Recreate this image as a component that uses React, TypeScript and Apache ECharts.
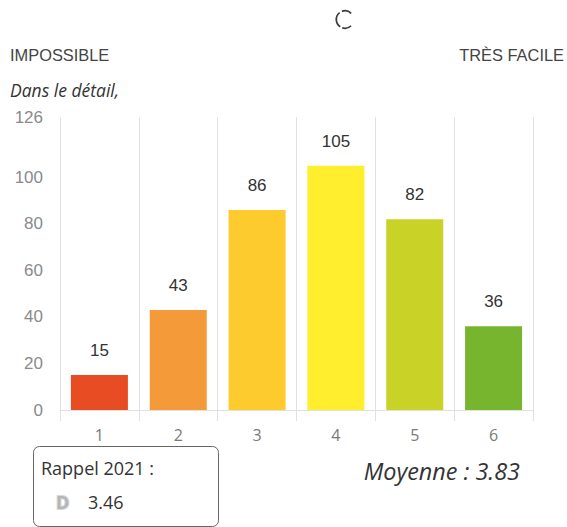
import React, { useEffect, useRef } from "react";
import * as echarts from "echarts";

const categories = ["1", "2", "3", "4", "5", "6"];
const values = [15, 43, 86, 105, 82, 36];
const barColors = ["#E84C22", "#F59A38", "#FDCB2E", "#FFEE2E", "#C9D327", "#77B52F"];
const yTicks = [0, 20, 40, 60, 80, 100, 126];
const leftLabel = "IMPOSSIBLE";
const rightLabel = "TRÈS FACILE";
const detailLabel = "Dans le détail,";
const recallTitle = "Rappel 2021 :";
const recallValue = "3.46";
const meanLabel = "Moyenne : 3.83";

const OPEN = '"Open Sans", sans-serif';
const ARIAL = '"Liberation Sans", Arial, sans-serif';

export default function App() {
  const ref = useRef<HTMLDivElement>(null);
  useEffect(() => {
    const chart = echarts.init(ref.current!, null, { renderer: "svg" });
    const spinner = { stroke: "#3A3A3A", lineWidth: 1.7, fill: "none" };
    chart.setOption({
      animation: false,
      grid: { left: 60, right: 34, top: 117, bottom: 117, containLabel: false },
      xAxis: {
        type: "category",
        data: categories,
        axisLine: { show: true, lineStyle: { color: "#E0E0E0", width: 1 } },
        axisTick: { show: true, length: 11, alignWithLabel: false, lineStyle: { color: "#E0E0E0" } },
        splitLine: { show: true, lineStyle: { color: "#E0E0E0", width: 1 } },
        axisLabel: { color: "#7A7A7A", fontFamily: OPEN, fontSize: 16, margin: 17 },
      },
      yAxis: {
        type: "value",
        min: 0,
        max: 126,
        axisLine: { show: false },
        axisTick: { show: false },
        splitLine: { show: false },
        axisLabel: {
          customValues: yTicks,
          color: "#8A8A8A",
          fontFamily: ARIAL,
          fontSize: 17,
          margin: 17,
          padding: [0, 0, 5, 0],
          showMinLabel: true,
          showMaxLabel: true,
        },
      },
      series: [
        {
          type: "bar",
          barWidth: 57,
          data: values.map((v, i) => ({ value: v, itemStyle: { color: barColors[i] } })),
          label: {
            show: true,
            position: "top",
            distance: 16,
            color: "#333333",
            fontFamily: ARIAL,
            fontSize: 17,
          },
        },
      ],
      graphic: [
        { type: "arc", shape: { cx: 345, cy: 19.5, r: 8.7, startAngle: 2.15, endAngle: 4.05 }, style: spinner },
        { type: "arc", shape: { cx: 345, cy: 19.5, r: 8.7, startAngle: 4.35, endAngle: 5.5 }, style: spinner },
        { type: "arc", shape: { cx: 345, cy: 19.5, r: 8.7, startAngle: 0.8, endAngle: 1.9 }, style: spinner },
        { type: "text", x: 10, y: 55, style: { text: leftLabel, font: `16.4px ${ARIAL}`, fill: "#444", textVerticalAlign: "middle" } },
        { type: "text", x: 564, y: 55, style: { text: rightLabel, font: `16.4px ${ARIAL}`, fill: "#444", textAlign: "right", textVerticalAlign: "middle" } },
        { type: "text", x: 10, y: 90, style: { text: detailLabel, font: `italic 17.5px ${OPEN}`, fill: "#333", textVerticalAlign: "middle" } },
        { type: "rect", shape: { x: 33.5, y: 446.5, width: 185, height: 80, r: 6 }, style: { fill: "#fff", stroke: "#666", lineWidth: 1 } },
        { type: "text", x: 41, y: 468, style: { text: recallTitle, font: `18px ${OPEN}`, fill: "#333", textVerticalAlign: "middle" } },
        { type: "text", x: 56, y: 502, style: { text: "D", font: `bold 18px ${OPEN}`, fill: "#B5B5B5", stroke: "#DADADA", lineWidth: 2, textVerticalAlign: "middle" } },
        { type: "text", x: 88, y: 502, style: { text: recallValue, font: `18px ${OPEN}`, fill: "#333", textVerticalAlign: "middle" } },
        { type: "text", x: 520, y: 471, style: { text: meanLabel, font: `italic 23.4px ${OPEN}`, fill: "#333", textAlign: "right", textVerticalAlign: "middle" } },
      ],
    });
    return () => chart.dispose();
  }, []);
  return <div ref={ref} style={{ position: "fixed", left: 0, top: 0, width: 567, height: 527, background: "#fff" }} />;
}
